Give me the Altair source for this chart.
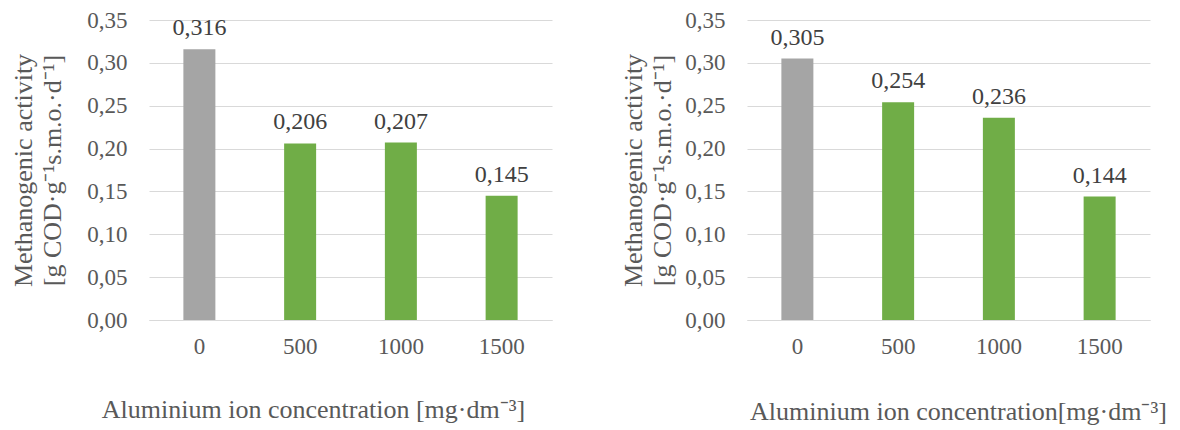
import altair as alt
import pandas as pd

categories = ["0", "500", "1000", "1500"]
left_values = [0.316, 0.206, 0.207, 0.145]
right_values = [0.305, 0.254, 0.236, 0.144]
bar_colors = ["#A5A5A5", "#70AD47", "#70AD47", "#70AD47"]
y_ticks = [0.0, 0.05, 0.10, 0.15, 0.20, 0.25, 0.30, 0.35]
y_title = ["Methanogenic activity", "[g COD·g⁻¹s.m.o.·d⁻¹]"]
x_title_left = "Aluminium ion concentration [mg·dm⁻³]"
x_title_right = "Aluminium ion concentration[mg·dm⁻³]"

FONT = "Liberation Serif"


def panel(values, x_title, x_title_x, x_title_pad, y_title_pad):
    df = pd.DataFrame({"conc": categories, "value": values, "color": bar_colors})
    base = alt.Chart(df).transform_calculate(
        label="replace(format(datum.value, '.3f'), '.', ',')"
    ).encode(
        x=alt.X(
            "conc:N",
            sort=categories,
            scale=alt.Scale(paddingInner=0, paddingOuter=0),
            axis=alt.Axis(
                title=x_title,
                labelAngle=0,
                ticks=False,
                grid=False,
                domainColor="#D9D9D9",
                labelPadding=15,
                titlePadding=x_title_pad,
                titleX=x_title_x,
            ),
        ),
        y=alt.Y(
            "value:Q",
            scale=alt.Scale(domain=[0, 0.35], nice=False, zero=True),
            axis=alt.Axis(
                title=y_title,
                values=y_ticks,
                labelExpr="replace(format(datum.value, '.2f'), '.', ',')",
                ticks=False,
                domain=False,
                gridColor="#D9D9D9",
                labelPadding=22,
                titlePadding=y_title_pad,
                titleLineHeight=29,
            ),
        ),
    )
    bars = base.mark_bar(size=32).encode(color=alt.Color("color:N", scale=None))
    labels = base.mark_text(
        baseline="bottom", dy=-9, font=FONT, fontSize=24, color="#404040"
    ).encode(text="label:N")
    return alt.layer(bars, labels).properties(width=403, height=300)


left = panel(left_values, x_title_left, 164, 38, 21)
right = panel(right_values, x_title_right, 211, 40, 9)

chart = (
    alt.hconcat(left, right, spacing=68)
    .properties(padding={"left": 2, "top": 1, "right": 2, "bottom": 2})
    .configure_view(stroke=None)
    .configure_axis(
        labelFont=FONT,
        titleFont=FONT,
        labelFontSize=23,
        titleFontSize=26,
        labelColor="#595959",
        titleColor="#595959",
        titleFontWeight="normal",
    )
)

chart.save("out.html", embed_options={"renderer": "svg", "actions": False})
